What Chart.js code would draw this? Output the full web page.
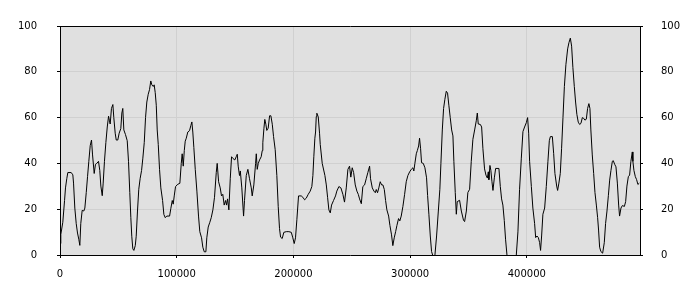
<!DOCTYPE html>
<html>
<head>
<meta charset="utf-8">
<script src="https://cdn.jsdelivr.net/npm/chart.js@4/dist/chart.umd.min.js"></script>
<style>
  body { margin: 0; background: #fff; }
</style>
</head>
<body>
<canvas id="myChart" width="700" height="300"></canvas>
<script>
// x positions of the samples
const xs = [
  0, 700, 2400, 3900, 4700, 5800, 6700, 9600, 11000, 11600, 12700, 13900, 15000, 16100, 17000, 17800,
  19000, 20400, 21300, 22500, 23600, 24700, 25900, 27000, 27900, 29300, 30400, 31500, 33000, 34100,
  35000, 36200, 37000, 38100, 39300, 40500, 41600, 42400, 43000, 44100, 45300, 46100, 47300, 48200,
  49500, 50700, 52100, 53000, 53800, 54700, 56100, 57600, 58700, 59800, 60700, 61500, 62400, 63300,
  64500, 65300, 66400, 67500, 68700, 69900, 71000, 72200, 73300, 74400, 75600, 76700, 77800, 78700,
  79900, 80700, 81600, 82500, 83300, 84200, 85300, 86400, 87900, 89000, 90200, 91500, 93900, 95000,
  96200, 97000, 97900, 99000, 101000, 102700, 103900, 104700, 105600, 106500, 107300, 108200, 109500,
  111000, 112100, 113000, 113800, 114700, 115900, 117300, 118700, 119800, 121300, 122400, 123600,
  125000, 125800, 127000, 128400, 129600, 131000, 132400, 133900, 134700, 135900, 137300, 138400,
  139500, 140700, 141900, 142700, 143600, 144700, 145900, 147000, 148100, 149800, 151000, 151900,
  152700, 153800, 154500, 155800, 157300, 158100, 159600, 161000, 162400, 163900, 164700, 166100,
  167600, 168200, 169000, 169900, 171000, 172400, 173300, 173800, 174700, 175500, 176400, 177200,
  178400, 179600, 180700, 181900, 183000, 184400, 185800, 187000, 188100, 189000, 190400, 191800,
  193900, 196100, 198200, 199500, 200700, 201800, 203000, 204400, 206700, 208100, 209600, 211000,
  212700, 214400, 215800, 216700, 217500, 218400, 219000, 219600, 220100, 221300, 222400, 223000,
  224700, 227000, 228200, 229300, 230400, 231600, 232700, 234400, 236100, 237200, 239000, 240700,
  242400, 243800, 245300, 246700, 248100, 249200, 250400, 251600, 253000, 254400, 255600, 256700,
  258200, 259500, 261000, 262400, 263800, 265300, 266100, 267600, 269000, 270200, 271000, 272100,
  273200, 274400, 275600, 276700, 277900, 279000, 280100, 281600, 282700, 284100, 285200, 286400,
  287600, 288700, 290100, 291200, 292400, 293800, 295300, 296700, 298100, 299600, 301000, 302400,
  303200, 304100, 305300, 306200, 307300, 308100, 309000, 309800, 311300, 312700, 314100, 315000,
  316100, 317300, 318400, 319900, 321200, 322700, 324200, 325500, 326400, 327600, 328700, 329800,
  331000, 332100, 333200, 334400, 335600, 336700, 337500, 338700, 339600, 340400, 342400, 343900,
  345800, 346700, 348200, 349500, 351000, 352400, 353800, 355300, 356700, 357600, 358400, 360200,
  361300, 362400, 363800, 365000, 366200, 367000, 367500, 368400, 369200, 370100, 371000, 372200,
  373300, 376100, 377300, 378400, 379500, 380700, 381800, 383000, 384800, 389100, 391000, 392400,
  393800, 395300, 396700, 398100, 399600, 400700, 401600, 402400, 403900, 405200, 406700, 407600,
  408700, 409900, 411000, 411800, 412700, 413800, 415300, 416700, 418100, 419300, 420200, 421900,
  423000, 424100, 425600, 426400, 427500, 428700, 429800, 431000, 432200, 433500, 435000, 436100,
  437300, 438400, 439500, 440700, 441800, 442900, 444100, 445300, 446400, 447600, 448700, 449800,
  451000, 452100, 453200, 454100, 454900, 456100, 457300, 458400, 459600, 460700, 461500, 462400,
  463500, 465000, 466400, 467500, 468700, 469900, 471000, 472100, 473300, 474100, 475300, 476400,
  477600, 478700, 479500, 480700, 481900, 483600, 484700, 485800, 487000, 488100, 489200, 490400,
  490900, 491800, 493000, 494100, 495200, 496400
];

// series values
const ys = [
  5, 9, 14.3, 23.8, 29.3, 33.3, 36, 36, 35, 31.4, 20.5, 13.7, 9.6, 6.9, 4.2, 13.7,
  19.5, 19.2, 20.5, 27.3, 34.2, 40.9, 47.8, 50.2, 43.7, 35.6, 39.6, 40, 40.9, 36.9,
  30.1, 25.9, 31.4, 40.9, 49.1, 55.9, 60.6, 58.6, 57.2, 64, 65.7, 60, 53.2, 50.2,
  50.2, 53.2, 55.2, 62, 64, 54.6, 52.6, 49.9, 40.9, 27.3, 16.3, 8.2, 2.7, 2,
  4.1, 8.2, 19.2, 28.7, 33.5, 36.9, 42.3, 49.1, 60, 66.8, 70.2, 72.2, 76, 74.3,
  73.6, 74.3, 70.9, 65.4, 54.6, 48.3, 37.4, 29.3, 23.8, 17.7, 16.3, 17, 17, 20.4,
  23.8, 22.2, 25.8, 29.9, 30.9, 31.3, 40, 44.2, 38.8, 45.6, 49.7, 51, 53.7,
  54.3, 56.5, 58.1, 53.7, 46.9, 37.4, 27.9, 17, 10.2, 7.5, 3.4, 1.4,
  1.4, 7.5, 12.2, 14.3, 16.3, 19.7, 25.2, 36, 40, 32, 29.3, 25.8,
  26.5, 21.8, 23.8, 21.8, 24.5, 19.7, 33.3, 42.9, 42.2, 41.5, 42.9, 44,
  38.8, 34.7, 36.7, 29.3, 17, 23.8, 34.7, 37.4, 33.3, 29.3, 25.8, 30.6,
  40, 44.2, 37.4, 40, 41.5, 42.9, 45.6, 49, 55.1, 59.2, 57.1, 54.4,
  55.4, 60.8, 60.8, 57.1, 51.7, 46, 34.7, 21.1, 11.6, 7.8, 7.2, 9.9,
  10.2, 10.2, 9.9, 7.5, 5, 7.5, 15.6, 25.8, 25.8, 25.2, 24.1, 24.8,
  26.5, 27.9, 29.9, 34.7, 42.9, 51, 53.7, 60.5, 61.9, 60.3, 53.2, 48.3,
  40, 34.7, 30.6, 25.2, 19.7, 18.4, 21.8, 23.8, 25.8, 27.9, 29.9, 29.3,
  26.5, 23.1, 29.3, 37.4, 38.8, 34, 38.1, 36, 30.6, 27.9, 26.5, 24.5,
  22.4, 29.9, 30.6, 33.3, 36, 38.8, 33.3, 29.3, 27.9, 27.2, 28.6, 27.2,
  29.3, 32, 30.6, 30.6, 28.6, 23.8, 19.7, 17, 12.9, 8.8, 4.1, 7.5,
  10.2, 12.9, 15.9, 14.9, 17, 21.1, 26.5, 32, 34.7, 36.3, 37.4, 38.1,
  36.7, 40, 44.2, 45.6, 47.6, 51, 46.4, 40.3, 40, 38.1, 33.7, 26,
  17.8, 8.3, 1.5, -1, -0.5, 8.3, 19.2, 28.7, 40, 54.6, 64, 68,
  71.5, 70.7, 65.4, 60, 54.6, 52, 40.9, 27.3, 17.8, 23.3, 23.9, 19.2,
  15.1, 14.6, 19.2, 27.3, 28.7, 40.9, 50.5, 54.6, 58.6, 62, 57.2, 57,
  55.9, 46.4, 37.6, 34.9, 33.6, 36.3, 32.9, 39.1, 37, 32.2, 28.2, 33.7,
  37.8, 37.8, 29.9, 24.5, 21.8, 15.1, 6.9, 0, -4, -4, 0, 10.1,
  28.7, 42.3, 53.9, 55.9, 57.8, 60, 53.2, 40.9, 29.9, 20.5, 13.7, 7.6,
  8.3, 7.6, 5.4, 2, 8.3, 17.8, 20.5, 29.9, 40.9, 49.9, 51.7, 51.7,
  44.4, 35.6, 30.1, 28.2, 31.4, 35.6, 46.4, 60, 73.6, 83.1, 90, 92.7,
  94.7, 91.2, 81.8, 73.6, 66.8, 61.4, 58, 57, 57.5, 60, 59.7, 58.9,
  59.3, 64, 66.1, 64, 54.6, 43.7, 35.6, 27.3, 21.8, 16.3, 10.9, 3.4,
  1.5, 0.8, 5.4, 13.7, 19.2, 25.9, 32.7, 36.9, 40.9, 41.2, 39.6, 38.5,
  31.4, 21.8, 17, 20.5, 21.6, 21.2, 23.3, 30.1, 34.2, 34.9, 40.9, 45,
  40.9, 36.9, 34.2, 32.9, 30.8, 31.4
];

// axis ranges and tick labels
const xRange = [0, 497000];
const xTicks = [0, 100000, 200000, 300000, 400000];
const yRange = [0, 100];
const yTicks = [0, 20, 40, 60, 80, 100];

const points = xs.map((x, i) => ({ x: x, y: ys[i] }));

const plotBg = {
  id: 'plotBg',
  beforeDraw(chart) {
    const a = chart.chartArea;
    const c = chart.ctx;
    c.save();
    c.fillStyle = '#e0e0e0';
    c.fillRect(a.left, a.top, a.right - a.left, a.bottom - a.top);
    c.restore();
  }
};

const font = { family: 'DejaVu Sans', size: 10 };
const gridColor = '#d0d0d0';
const setTicks = list => axis => { axis.ticks = list.map(v => ({ value: v })); };
const plain = v => String(v);

const ctx = document.querySelector('#myChart');

new Chart(ctx, {
  type: 'line',
  data: {
    datasets: [{
      data: points,
      borderColor: '#000',
      borderWidth: 1,
      pointRadius: 0,
      tension: 0,
      fill: false
    }]
  },
  options: {
    responsive: false,
    animation: false,
    plugins: { legend: { display: false }, tooltip: { enabled: false } },
    layout: { padding: 0 },
    scales: {
      x: {
        type: 'linear',
        position: 'bottom',
        min: xRange[0],
        max: xRange[1],
        afterBuildTicks: setTicks(xTicks),
        afterFit: s => { s.height = 45; },
        ticks: { callback: plain, color: '#000', font: font, padding: 10, maxRotation: 0, autoSkip: false },
        grid: { color: gridColor, tickColor: '#000', tickLength: 3 },
        border: { color: '#000', width: 1 }
      },
      xTop: {
        type: 'linear',
        position: 'top',
        min: xRange[0],
        max: xRange[1],
        afterFit: s => { s.height = 10; },
        ticks: { display: false },
        grid: { drawOnChartArea: false, drawTicks: false },
        border: { color: '#000', width: 1 }
      },
      y: {
        position: 'left',
        min: yRange[0],
        max: yRange[1],
        afterBuildTicks: setTicks(yTicks),
        afterFit: s => { s.width = 60; },
        ticks: { callback: plain, color: '#000', font: font, padding: 20 },
        grid: { color: gridColor, tickColor: '#000', tickLength: 3 },
        border: { color: '#000', width: 1 }
      },
      yRight: {
        position: 'right',
        min: yRange[0],
        max: yRange[1],
        afterBuildTicks: setTicks(yTicks),
        afterFit: s => { s.width = 60; },
        ticks: { callback: plain, color: '#000', font: font, padding: 18 },
        grid: { drawOnChartArea: false, tickColor: '#000', tickLength: 3 },
        border: { color: '#000', width: 1 }
      }
    }
  },
  plugins: [plotBg]
});
</script>
</body>
</html>
